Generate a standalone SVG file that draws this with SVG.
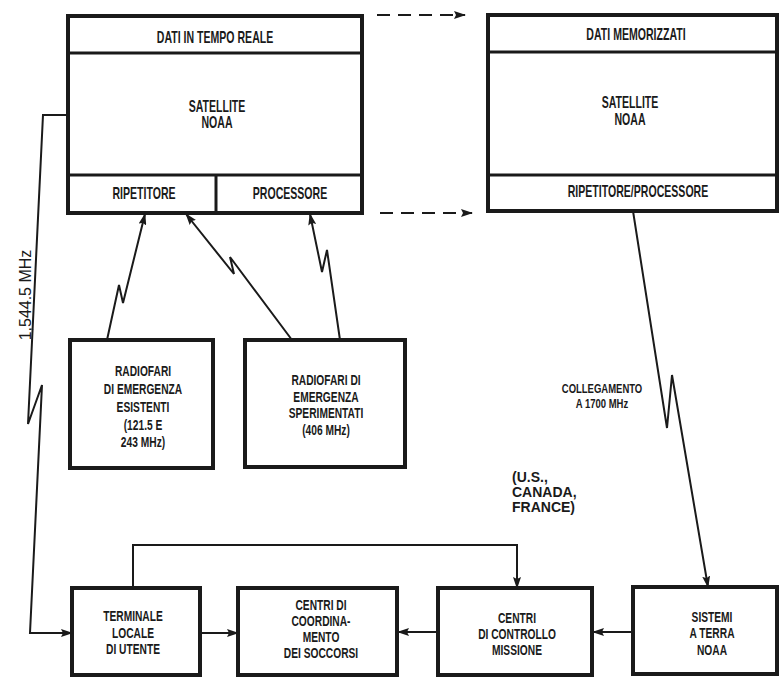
<svg xmlns="http://www.w3.org/2000/svg" width="780" height="677" viewBox="0 0 780 677">
<defs>
<marker id="ah" markerUnits="userSpaceOnUse" markerWidth="12" markerHeight="8" refX="11" refY="4" orient="auto">
<path d="M0,0 L12,4 L0,8 L2,4 z" fill="#1a1a1a"/>
</marker>
<style>
.box{fill:#fff;stroke:#1a1a1a;stroke-width:4}
.div{stroke:#1a1a1a;stroke-width:3;fill:none}
.ln{stroke:#1a1a1a;stroke-width:2;fill:none}
.dash{stroke:#1a1a1a;stroke-width:2;fill:none;stroke-dasharray:13 8}
.t{font-family:"Liberation Sans",Arial,sans-serif;font-weight:bold;font-size:16px;fill:#1a1a1a;text-anchor:middle}
.s{font-size:14px}
.c{font-size:13px}
</style>
</defs>
<rect width="780" height="677" fill="#fff"/>

<g id="sat-realtime">
<rect class="box" x="68" y="16" width="294" height="197"/>
<line class="div" x1="68" y1="53" x2="362" y2="53"/>
<line class="div" x1="68" y1="175" x2="362" y2="175"/>
<line class="div" x1="216" y1="175" x2="216" y2="213"/>
<text class="t" transform="translate(215,43) scale(0.66,1)">DATI IN TEMPO REALE</text>
<text class="t" transform="translate(217,112) scale(0.66,1)"><tspan x="0" y="0">SATELLITE</tspan><tspan x="0" y="16">NOAA</tspan></text>
<text class="t" transform="translate(144,199) scale(0.66,1)">RIPETITORE</text>
<text class="t" transform="translate(290,199) scale(0.66,1)">PROCESSORE</text>
</g>

<g id="sat-stored">
<rect class="box" x="488" y="15" width="289" height="196"/>
<line class="div" x1="488" y1="52" x2="777" y2="52"/>
<line class="div" x1="488" y1="175" x2="777" y2="175"/>
<text class="t" transform="translate(636,40) scale(0.66,1)">DATI MEMORIZZATI</text>
<text class="t" transform="translate(630,108) scale(0.66,1)"><tspan x="0" y="0">SATELLITE</tspan><tspan x="0" y="17">NOAA</tspan></text>
<text class="t" transform="translate(638,197) scale(0.66,1)">RIPETITORE/PROCESSORE</text>
</g>

<g id="radiofari-esistenti">
<rect class="box" x="70" y="340" width="143" height="128"/>
<text class="t s" transform="translate(143,376) scale(0.73,1)"><tspan x="0" y="0">RADIOFARI</tspan><tspan x="0" y="18">DI EMERGENZA</tspan><tspan x="0" y="36">ESISTENTI</tspan><tspan x="0" y="54">(121.5 E</tspan><tspan x="0" y="71">243 MHz)</tspan></text>
</g>

<g id="radiofari-sperimentati">
<rect class="box" x="245" y="340" width="160" height="127"/>
<text class="t s" transform="translate(326,385) scale(0.73,1)"><tspan x="0" y="0">RADIOFARI DI</tspan><tspan x="0" y="17">EMERGENZA</tspan><tspan x="0" y="33">SPERIMENTATI</tspan><tspan x="0" y="50">(406 MHz)</tspan></text>
</g>

<g id="terminale">
<rect class="box" x="72" y="588" width="128" height="87"/>
<text class="t s" transform="translate(133,621) scale(0.73,1)"><tspan x="0" y="0">TERMINALE</tspan><tspan x="0" y="17">LOCALE</tspan><tspan x="0" y="33">DI UTENTE</tspan></text>
</g>

<g id="coordinamento">
<rect class="box" x="238" y="588" width="159" height="87"/>
<text class="t s" transform="translate(321,610) scale(0.73,1)"><tspan x="0" y="0">CENTRI DI</tspan><tspan x="0" y="16">COORDINA-</tspan><tspan x="0" y="32">MENTO</tspan><tspan x="0" y="48">DEI SOCCORSI</tspan></text>
</g>

<g id="controllo">
<rect class="box" x="438" y="588" width="154" height="87"/>
<text class="t s" transform="translate(517,623) scale(0.73,1)"><tspan x="0" y="0">CENTRI</tspan><tspan x="0" y="16">DI CONTROLLO</tspan><tspan x="0" y="32">MISSIONE</tspan></text>
</g>

<g id="sistemi">
<rect class="box" x="633" y="587" width="144" height="87"/>
<text class="t s" transform="translate(712,622) scale(0.73,1)"><tspan x="0" y="0">SISTEMI</tspan><tspan x="0" y="16">A TERRA</tspan><tspan x="0" y="33">NOAA</tspan></text>
</g>

<g id="connectors">
<line class="dash" x1="377" y1="15" x2="465" y2="15" marker-end="url(#ah)"/>
<line class="dash" x1="380" y1="213" x2="472" y2="213" marker-end="url(#ah)"/>
<polyline class="ln" points="68,115 43,115 28,424 42,385 30,633 72,633" marker-end="url(#ah)"/>
<polyline class="ln" points="107,340 119,285 123,303 145,214" marker-end="url(#ah)"/>
<polyline class="ln" points="292,340 230,257 234,274 186,214" marker-end="url(#ah)"/>
<polyline class="ln" points="340,340 327,250 322,272 310,214" marker-end="url(#ah)"/>
<polyline class="ln" points="633,211 667,428 672,375 708,587" marker-end="url(#ah)"/>
<line class="ln" x1="200" y1="633" x2="238" y2="633" marker-end="url(#ah)"/>
<line class="ln" x1="438" y1="632" x2="398" y2="632" marker-end="url(#ah)"/>
<line class="ln" x1="633" y1="632" x2="593" y2="632" marker-end="url(#ah)"/>
<polyline class="ln" points="133,588 133,545 517,545 517,588" marker-end="url(#ah)"/>
</g>

<g id="labels">
<text class="t" style="font-weight:normal;font-size:16px" transform="translate(31,295) rotate(-90)">1,544.5 MHz</text>
<text class="t c" transform="translate(602,393) scale(0.73,1)"><tspan x="0" y="0">COLLEGAMENTO</tspan><tspan x="0" y="15">A 1700 MHz</tspan></text>
<text class="t" style="text-anchor:start;font-size:14px" x="512" y="482"><tspan x="512" y="482">(U.S.,</tspan><tspan x="512" y="497">CANADA,</tspan><tspan x="512" y="512">FRANCE)</tspan></text>
</g>
</svg>
